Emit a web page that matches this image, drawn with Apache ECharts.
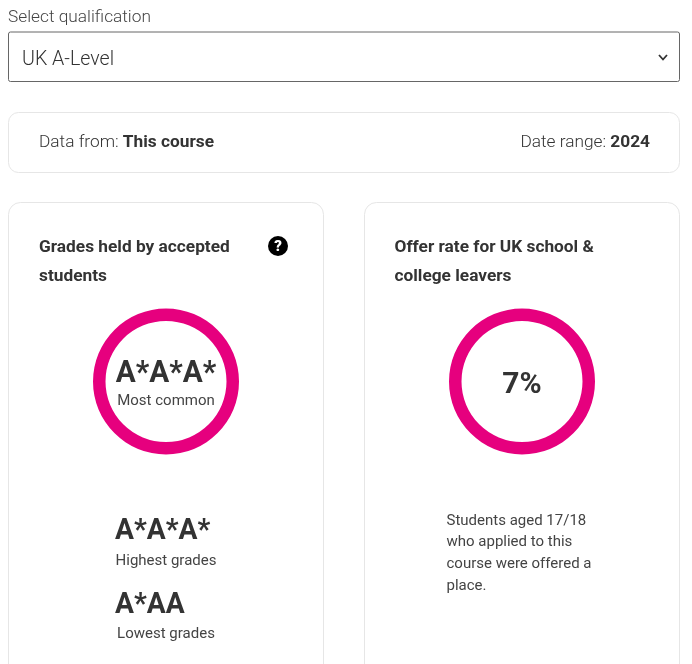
<!DOCTYPE html>
<html>
<head>
<meta charset="utf-8">
<title>Entry grades</title>
<script src="https://cdn.jsdelivr.net/npm/echarts@6/dist/echarts.min.js"></script>
<style>
html, body { margin: 0; padding: 0; background: #fff; }
#echarts { width: 692px; height: 664px; }
</style>
</head>
<body>
<div id="echarts"></div>
<script>
// values
var selectLabel = 'Select qualification'
var qualification = 'UK A-Level'
var dataFrom = ['Data from: ', 'This course']
var dateRange = ['Date range: ', '2024']
var cardTitles = [['Grades held by accepted', 'students'], ['Offer rate for UK school &', 'college leavers']]
var ringNames = ['Most common', 'Offer rate']
var ringValues = [100, 100]
var ringLabels = ['A*A*A*', '7%']
var ringCaption = 'Most common'
var gradeValues = ['A*A*A*', 'A*AA']
var gradeCaptions = ['Highest grades', 'Lowest grades']
var offerNote = ['Students aged 17/18', 'who applied to this', 'course were offered a', 'place.']

var myChart = echarts.init(document.getElementById('echarts'))

var font = 'Roboto'
var dark = '#333333'
var pink = '#e6007e'
var line = '#e6e6e6'

function box(x, y, w, h, r, stroke) {
    return { type: 'rect', z: 1, shape: { x: x, y: y, width: w, height: h, r: r }, style: { fill: '#fff', stroke: stroke, lineWidth: 1 } }
}

function txt(x, y, text, size, weight, color, align, scaleX) {
    return {
        type: 'text', z: 5, x: x, y: y, scaleX: scaleX || 1,
        style: { text: text, font: weight + ' ' + size + 'px ' + font, fill: color, align: align || 'left', verticalAlign: 'middle' }
    }
}

// text with a light part and a bold part on one line
function mixed(x, y, parts, align) {
    return {
        type: 'text', z: 5, x: x, y: y,
        style: {
            text: '{a|' + parts[0] + '}{b|' + parts[1] + '}',
            align: align, verticalAlign: 'middle',
            rich: {
                a: { font: '300 17.3px ' + font, fill: dark },
                b: { font: '700 17.3px ' + font, fill: dark }
            }
        }
    }
}

var graphics = [
    txt(8, 17.5, selectLabel, 17.3, 300, '#444'),
    box(8.5, 32, 671, 49.5, 2, '#666'),
    txt(22, 60, qualification, 19.6, 300, dark),
    { type: 'polyline', z: 5, shape: { points: [[659, 55], [663, 59.5], [667, 55]] }, style: { stroke: '#333', lineWidth: 1.8, fill: null } },
    box(8.5, 112.5, 671, 60, 10, line),
    mixed(39, 142.5, dataFrom, 'left'),
    mixed(650, 142.5, dateRange, 'right'),
    box(8.5, 202.5, 315, 480, 12, line),
    box(364.5, 202.5, 315, 480, 12, line),
    { type: 'circle', z: 5, shape: { cx: 278, cy: 246, r: 10 }, style: { fill: '#000' } },
    txt(278, 247, '?', 15, 900, '#fff', 'center'),
    txt(166, 374, ringLabels[0], 31, 700, dark, 'center', 0.96),
    txt(166, 401, ringCaption, 15, 400, '#444', 'center'),
    txt(522, 385.5, ringLabels[1], 30, 700, dark, 'center'),
    txt(115, 531, gradeValues[0], 30, 700, dark, 'left', 0.94),
    txt(166, 561, gradeCaptions[0], 15, 400, '#444', 'center'),
    txt(115, 605, gradeValues[1], 30, 700, dark, 'left', 0.94),
    txt(166, 634, gradeCaptions[1], 15, 400, '#444', 'center')
]

cardTitles.forEach(function (rows, i) {
    var left = i == 0 ? 39 : 394.5
    rows.forEach(function (row, j) {
        graphics.push(txt(left, 248 + j * 29, row, 17.3, 700, dark))
    })
})

offerNote.forEach(function (row, i) {
    graphics.push(txt(446.5, 521 + i * 21.7, row, 15, 400, '#444'))
})

function ring(i, cx) {
    return {
        type: 'pie',
        silent: true,
        clockwise: true,
        animation: false,
        center: [cx, 381.5],
        radius: [60.5, 73],
        label: { show: false },
        labelLine: { show: false },
        itemStyle: { color: pink, borderWidth: 0 },
        data: [{ name: ringNames[i], value: ringValues[i] }],
        z: 3
    }
}

var option = {
    animation: false,
    backgroundColor: '#fff',
    series: [ring(0, 166), ring(1, 522)],
    graphic: { elements: graphics }
}

myChart.setOption(option)
</script>
</body>
</html>
